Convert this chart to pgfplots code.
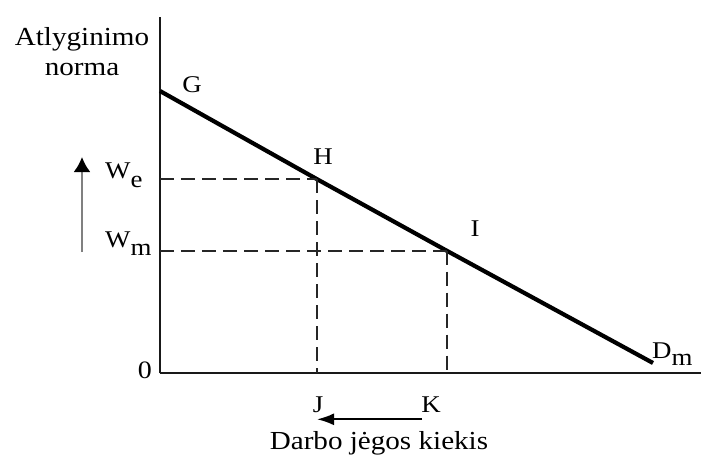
\documentclass[border=0pt]{standalone}
\usepackage{pgfplots}
\pgfplotsset{compat=1.18}
\usepackage{fontspec}
\setmainfont{Liberation Serif}
\usetikzlibrary{arrows.meta}
\newcommand\T[1]{\scalebox{1.12}[1]{#1}}
\begin{document}
\begin{tikzpicture}[x=1pt,y=1pt]
\useasboundingbox (-160,-82.7) rectangle (541,373.3);
\begin{axis}[at={(0,0)}, anchor=south west,
  width=541pt, height=356.3pt, scale only axis,
  xmin=0, xmax=541, ymin=0, ymax=356.3,
  axis lines=left, axis line style={-, line width=1.9pt, black!90},
  xtick=\empty, ytick=\empty, clip=false]
% demand line
\addplot[line width=4.2pt, black] coordinates {(0,282.3) (156.7,194.3) (286.7,122.6) (493,10.3)};
% dashed guides
\addplot[black!85, line width=1.6pt, dash pattern=on 14pt off 7pt] coordinates {(0,194.3) (156.7,194.3)};
\addplot[black!85, line width=1.6pt, dash pattern=on 14pt off 7pt] coordinates {(156.7,194.3) (156.7,0)};
\addplot[black!85, line width=1.6pt, dash pattern=on 14pt off 7pt] coordinates {(0,122.6) (286.7,122.6)};
\addplot[black!85, line width=1.6pt, dash pattern=on 14pt off 7pt] coordinates {(286.7,122.6) (286.7,0)};
% point labels
\begin{scope}[every node/.style={inner sep=0pt, font=\fontsize{24}{24}\selectfont}]
\node[anchor=base] at (axis cs:32,281) {\T{G}};
\node[anchor=base] at (axis cs:163,209) {\T{H}};
\node[anchor=base] at (axis cs:315,137) {\T{I}};
\node[anchor=base west] at (axis cs:492,15) {\T{D\raisebox{-7pt}{m}}};
\node[anchor=base west] at (axis cs:-55,195) {\T{W\raisebox{-9pt}{e}}};
\node[anchor=base west] at (axis cs:-55,126) {\T{W\raisebox{-8pt}{m}}};
\node[anchor=base] at (axis cs:-15,-5) {\T{\fontsize{25}{25}\selectfont 0}};
\node[anchor=base] at (axis cs:158,-39) {\T{J}};
\node[anchor=base] at (axis cs:271,-39) {\T{K}};
\end{scope}
% titles
\begin{scope}[every node/.style={inner sep=0pt, font=\fontsize{26}{26}\selectfont}]
\node[anchor=base] at (axis cs:-78,328.3) {\T{Atlyginimo}};
\node[anchor=base] at (axis cs:-78,298.3) {\T{norma}};
\node[anchor=base] at (axis cs:219,-76.5) {\T{Darbo jėgos kiekis}};
\end{scope}
% arrows
\draw[line width=2pt, -{Latex[length=17pt,width=12pt]}] (axis cs:262,-46) -- (axis cs:157,-46);
\draw[gray, line width=2.2pt, -{Latex[length=15pt,width=17pt,color=black]}] (axis cs:-78,121.3) -- (axis cs:-78,216.3);
\end{axis}
\end{tikzpicture}
\end{document}
